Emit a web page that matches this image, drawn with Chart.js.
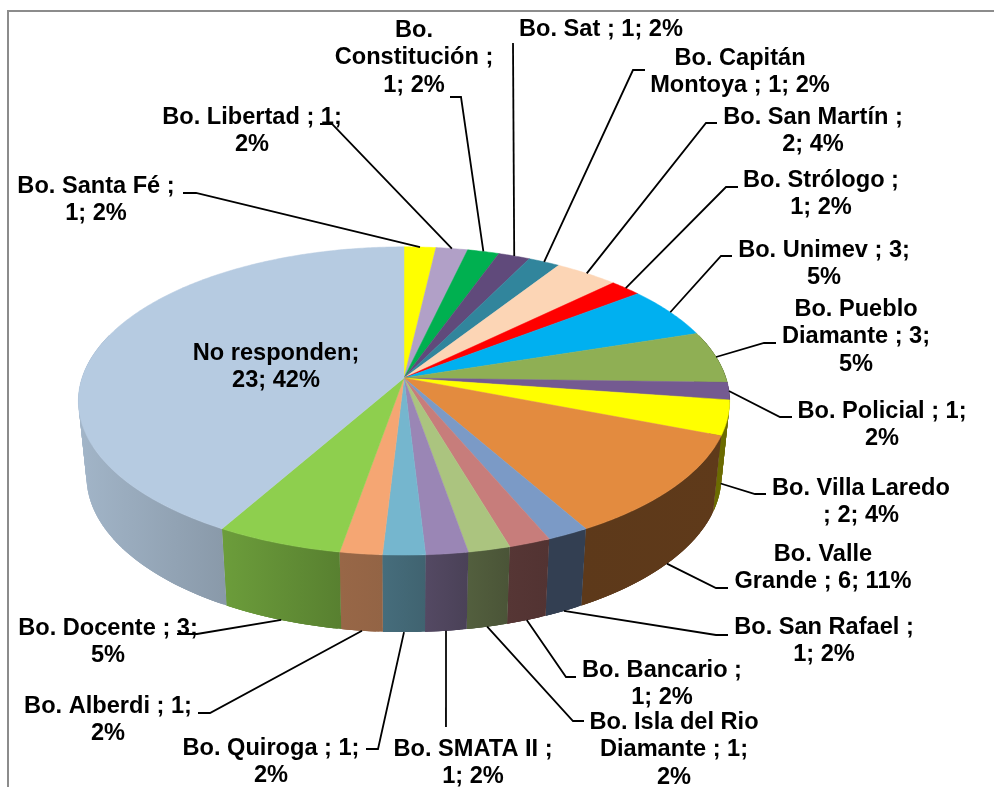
<!DOCTYPE html>
<html>
<head>
<meta charset="utf-8">
<style>
    html, body { margin: 0; padding: 0; background: #fff; }
    #wrap { width: 994px; height: 787px; position: relative; }
</style>
<script src="https://cdn.jsdelivr.net/npm/chart.js@4/dist/chart.umd.min.js"></script>
</head>
<body>
<div id="wrap"><canvas id="chart"></canvas></div>
<script>
const categories = [
    "Bo. Santa Fé", "Bo. Libertad", "Bo. Constitución", "Bo. Sat", "Bo. Capitán Montoya",
    "Bo. San Martín", "Bo. Strólogo", "Bo. Unimev", "Bo. Pueblo Diamante", "Bo. Policial",
    "Bo. Villa Laredo", "Bo. Valle Grande", "Bo. San Rafael", "Bo. Bancario", "Bo. Isla del Rio Diamante",
    "Bo. SMATA II", "Bo. Quiroga", "Bo. Alberdi", "Bo. Docente", "No responden"
];
const values = [1, 1, 1, 1, 1, 2, 1, 3, 3, 1, 2, 6, 1, 1, 1, 1, 1, 1, 3, 23];

const labelLines = [
    ["Bo. Santa Fé ;", "1; 2%"],
    ["Bo. Libertad ; 1;", "2%"],
    ["Bo.", "Constitución ;", "1; 2%"],
    ["Bo. Sat ; 1; 2%"],
    ["Bo. Capitán", "Montoya ; 1; 2%"],
    ["Bo. San Martín ;", "2; 4%"],
    ["Bo. Strólogo ;", "1; 2%"],
    ["Bo. Unimev ; 3;", "5%"],
    ["Bo. Pueblo", "Diamante ; 3;", "5%"],
    ["Bo. Policial ; 1;", "2%"],
    ["Bo. Villa Laredo", "; 2; 4%"],
    ["Bo. Valle", "Grande ; 6; 11%"],
    ["Bo. San Rafael ;", "1; 2%"],
    ["Bo. Bancario ;", "1; 2%"],
    ["Bo. Isla del Rio", "Diamante ; 1;", "2%"],
    ["Bo. SMATA II ;", "1; 2%"],
    ["Bo. Quiroga ; 1;", "2%"],
    ["Bo. Alberdi ; 1;", "2%"],
    ["Bo. Docente ; 3;", "5%"],
    ["No responden;", "23; 42%"]
];

const sliceColors = [
    "#ffff00", "#b1a0c7", "#00b050", "#604a7b", "#31859c",
    "#fcd5b5", "#ff0000", "#00b0f0", "#8faf54", "#745a91",
    "#ffff00", "#e38b3f", "#7b9ac6", "#c77d7b", "#abc47f",
    "#9a86b5", "#75b6ce", "#f5a673", "#8ecf4e", "#b6cbe1"
];

// label centre x, first line centre y
const labelX = [96, 252, 414, 601, 740, 813, 821, 824, 856, 882, 861, 823, 824, 662, 674, 473, 271, 108, 108, 276];
const labelY = [186, 117, 30, 29, 58, 117, 180, 250, 309, 411, 488, 554, 627, 670, 722, 749, 748, 706, 628, 353];

// leader line points after the pie anchor, null = no leader
const leaderPoints = [
    [[196, 193], [183, 193]],
    [[332, 124], [320, 124]],
    [[461, 97], [450, 97]],
    [[513, 43]],
    [[633, 70], [645, 70]],
    [[706, 123], [717, 123]],
    [[726, 187], [738, 187]],
    [[721, 256], [732, 256]],
    [[764, 343], [776, 343]],
    [[780, 417], [792, 417]],
    [[755, 494], [766, 494]],
    [[716, 588], [728, 588]],
    [[716, 635], [728, 635]],
    [[566, 677], [576, 677]],
    [[573, 721], [584, 721]],
    [[446, 727]],
    [[378, 749], [366, 749]],
    [[210, 713], [198, 713]],
    [[197, 634], [177, 634]],
    null
];
// how far down the wall the leader starts, 0 = on the rim, 1 = at the foot
const leaderWallDrop = [0, 0, 0, 0, 0, 0, 0, 0, 0, 0, 0.87, 1, 1, 1, 1, 1, 1, 1, 1, 0];

// how dark the side wall is at a given x
const wallShadeX = [80, 220, 340, 384, 430, 470, 510, 550, 730];
const wallShade = [0.89, 0.76, 0.62, 0.6, 0.54, 0.48, 0.43, 0.41, 0.42];

const tilt = 0.468;         // vertical squash of the disc
const perspective = 0.149;  // front edge looks bigger than the back
const wallDepth = 75;
const wallInset = 0.975;    // foot of the wall is narrower than the rim

function project(arc, angle) {
    const ux = Math.cos(angle);
    const uy = Math.sin(angle);
    const f = 1 / (1 - perspective * uy);
    return {
        x: arc.x + arc.outerRadius * ux * f,
        y: arc.y + arc.outerRadius * tilt * uy * f
    };
}

function wallPoint(arc, angle, drop) {
    const p = project(arc, angle);
    return {
        x: arc.x + (p.x - arc.x) * (1 - (1 - wallInset) * drop),
        y: p.y + (wallDepth + 2 * Math.sin(angle)) * drop
    };
}

function shadeAt(x) {
    if (x <= wallShadeX[0]) return wallShade[0];
    for (let i = 1; i < wallShadeX.length; i++) {
        if (x <= wallShadeX[i]) {
            const t = (x - wallShadeX[i - 1]) / (wallShadeX[i] - wallShadeX[i - 1]);
            return wallShade[i - 1] + t * (wallShade[i] - wallShade[i - 1]);
        }
    }
    return wallShade[wallShade.length - 1];
}

function darken(hex, factor) {
    const n = parseInt(hex.slice(1), 16);
    const r = Math.round(((n >> 16) & 255) * factor);
    const g = Math.round(((n >> 8) & 255) * factor);
    const b = Math.round((n & 255) * factor);
    return "rgb(" + r + "," + g + "," + b + ")";
}

function sampleAngles(start, end) {
    const out = [];
    const steps = Math.max(2, Math.ceil((end - start) / 0.01));
    for (let i = 0; i <= steps; i++) {
        out.push(start + (end - start) * i / steps);
    }
    return out;
}

function drawWall(ctx, arc, color) {
    // only the front of the disc shows a wall
    const start = Math.max(arc.startAngle, -0.3);
    const end = Math.min(arc.endAngle, Math.PI + 0.3);
    if (end <= start) return;

    const angles = sampleAngles(start, end);
    const top = angles.map(a => project(arc, a));
    const foot = angles.map(a => wallPoint(arc, a, 1));
    const xs = top.concat(foot).map(p => p.x);
    const x0 = Math.min(...xs);
    const x1 = Math.max(...xs);

    const gradient = ctx.createLinearGradient(x0, 0, x1, 0);
    gradient.addColorStop(0, darken(color, shadeAt(x0)));
    gradient.addColorStop(1, darken(color, shadeAt(x1)));
    ctx.fillStyle = gradient;

    // overlapping quads, a single polygon folds over itself at the silhouette
    for (let i = 0; i < angles.length - 1; i++) {
        const j = Math.min(i + 3, angles.length - 1);
        ctx.beginPath();
        ctx.moveTo(top[i].x, top[i].y);
        ctx.lineTo(top[j].x, top[j].y);
        ctx.lineTo(foot[j].x, foot[j].y);
        ctx.lineTo(foot[i].x, foot[i].y);
        ctx.closePath();
        ctx.fill();
    }
}

function drawTop(ctx, arc, color) {
    ctx.beginPath();
    ctx.moveTo(arc.x, arc.y);
    sampleAngles(arc.startAngle, arc.endAngle).forEach(a => {
        const p = project(arc, a);
        ctx.lineTo(p.x, p.y);
    });
    ctx.closePath();
    ctx.fillStyle = color;
    ctx.strokeStyle = color;
    ctx.lineWidth = 0.5;
    ctx.fill();
    ctx.stroke();
}

function drawLeader(ctx, arc, i) {
    if (!leaderPoints[i]) return;
    const mid = (arc.startAngle + arc.endAngle) / 2;
    const from = wallPoint(arc, mid, leaderWallDrop[i]);
    ctx.beginPath();
    ctx.moveTo(from.x, from.y);
    leaderPoints[i].forEach(p => ctx.lineTo(p[0], p[1]));
    ctx.strokeStyle = "#000";
    ctx.lineWidth = 1.8;
    ctx.stroke();
}

const pie3d = {
    id: "pie3d",
    beforeDraw(chart) {
        // chart frame, only top and left are inside the crop
        const ctx = chart.ctx;
        ctx.save();
        ctx.fillStyle = "#fff";
        ctx.fillRect(0, 0, chart.width, chart.height);
        ctx.strokeStyle = "#8c8c8c";
        ctx.lineWidth = 2;
        ctx.beginPath();
        ctx.moveTo(8, chart.height);
        ctx.lineTo(8, 11);
        ctx.lineTo(chart.width, 11);
        ctx.stroke();
        ctx.restore();
    },
    beforeDatasetsDraw(chart) {
        const ctx = chart.ctx;
        const arcs = chart.getDatasetMeta(0).data;
        ctx.save();
        arcs.forEach((arc, i) => drawWall(ctx, arc, sliceColors[i]));
        arcs.forEach((arc, i) => drawTop(ctx, arc, sliceColors[i]));
        arcs.forEach((arc, i) => drawLeader(ctx, arc, i));

        ctx.fillStyle = "#000";
        ctx.font = "bold 23.6px 'Liberation Sans', Arial, sans-serif";
        ctx.textAlign = "center";
        ctx.textBaseline = "middle";
        labelLines.forEach((lines, i) => {
            lines.forEach((line, j) => {
                ctx.fillText(line, labelX[i], labelY[i] + j * 27.7);
            });
        });
        ctx.restore();
        return false; // wedges are painted above
    }
};

new Chart(document.getElementById("chart"), {
    type: "pie",
    data: {
        labels: categories,
        datasets: [{
            data: values,
            backgroundColor: sliceColors,
            borderWidth: 0
        }]
    },
    options: {
        animation: false,
        responsive: true,
        maintainAspectRatio: false,
        layout: {
            padding: { left: 82, right: 268, top: 56, bottom: 87 }
        },
        plugins: {
            legend: { display: false },
            tooltip: { enabled: false }
        }
    },
    plugins: [pie3d]
});
</script>
</body>
</html>
